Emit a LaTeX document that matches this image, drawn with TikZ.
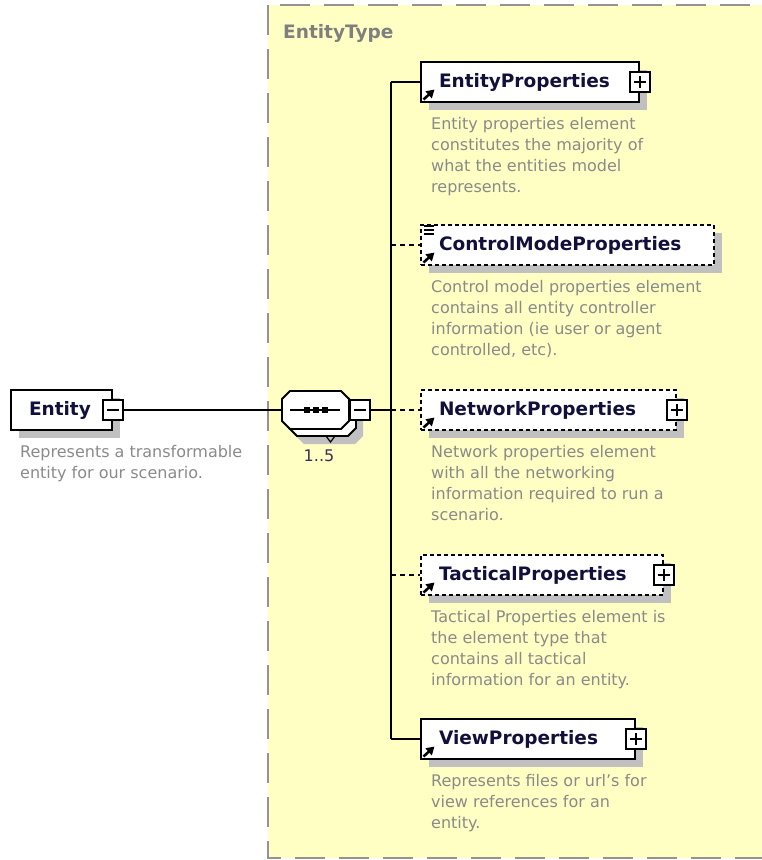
\documentclass[tikz,border=0pt]{standalone}
\usepackage{fontspec}
\setmainfont{DejaVu Sans}
\usetikzlibrary{positioning,shadows,arrows.meta}
\definecolor{schemayellow}{HTML}{FFFFC4}
\definecolor{bordergray}{HTML}{939393}
\definecolor{shadowgray}{HTML}{C0C0C0}
\definecolor{descgray}{HTML}{8A8A8A}
\definecolor{typegray}{HTML}{7F7F7F}
\definecolor{labelnavy}{HTML}{10103A}
\definecolor{countpurple}{HTML}{3C2C5C}
\newcommand{\lblfont}{\fontsize{18.5}{22}\selectfont\bfseries}
\newcommand{\dscfont}{\fontsize{16}{21}\selectfont}
% octagon of a sequence compositor round a named node
\newcommand{\seqshape}[2][]{%
  \draw[fill=white, line width=1.8pt, #1]
    ([xshift=8pt]#2.north west) -- ([xshift=-8pt]#2.north east)
    -- ([yshift=-8pt]#2.north east) -- ([yshift=8pt]#2.south east)
    -- ([xshift=-8pt]#2.south east) -- ([xshift=8pt]#2.south west)
    -- ([yshift=8pt]#2.south west) -- ([yshift=-8pt]#2.north west) -- cycle;}

\begin{document}
\begin{tikzpicture}[
  x=1pt, y=-1pt,
  node distance=14pt,
  elem/.style={draw=black, line width=2pt, fill=white, anchor=west,
               minimum height=40pt, inner xsep=0pt, text width=#1, align=left,
               font=\lblfont, text=labelnavy,
               drop shadow={shadow xshift=8pt, shadow yshift=-8pt,
                            fill=shadowgray, opacity=1}},
  optelem/.style={elem={#1}, dash pattern=on 4pt off 3pt},
  desc/.style={anchor=north west, inner sep=0pt, font=\dscfont,
               text=descgray, align=left},
  pm/.style={draw=black, line width=1.7pt, fill=white, minimum size=20pt,
             inner sep=0pt},
  plusbox/.style={pm, path picture={
      \draw[line width=1.7pt]
        ([xshift=4pt]path picture bounding box.west) -- ([xshift=-4pt]path picture bounding box.east)
        ([yshift=-4pt]path picture bounding box.north) -- ([yshift=4pt]path picture bounding box.south);}},
  minusbox/.style={pm, path picture={
      \draw[line width=1.7pt]
        ([xshift=4pt]path picture bounding box.west) -- ([xshift=-4pt]path picture bounding box.east);}},
  compositor/.style={rectangle, minimum width=67pt, minimum height=38pt,
                     inner sep=0pt, outer sep=0pt},
  link/.style={line width=1.8pt},
  optlink/.style={link, dash pattern=on 5pt off 4pt},
  refarrow/.style={-{Triangle[length=8pt,width=9pt]}, line width=2.6pt}
]
  \useasboundingbox (0,0) rectangle (762,860);
  \clip (0,0) rectangle (762,860);

  % complex type area
  \draw[fill=schemayellow, draw=bordergray, line width=2pt,
        dash pattern=on 30pt off 14pt] (268,5) rectangle (800,858);
  \node[anchor=west, font=\lblfont, text=typegray, inner sep=0pt] (etype) at (283,33) {EntityType};

  % root element
  \node[elem=101pt] (entity) at (10,410) {\hspace*{18pt}Entity};
  \node[minusbox] (entity-x) at (entity.east) {};
  \node[desc, below=14pt of entity.south west, anchor=north west, xshift=10pt] (entity-d)
       {Represents a transformable\\entity for our scenario.};

  % sequence 1..5
  \node[compositor] (seq-shadow) at (329.5,425) {};
  \node[compositor] (seq-back) at (322.5,417) {};
  \node[compositor] (seq) at (315.5,410) {};
  \seqshape[fill=shadowgray, draw=none]{seq-shadow}
  \seqshape{seq-back}
  \seqshape{seq}
  \draw[link] ([xshift=8pt]seq.west) -- ([xshift=-9pt]seq.east);
  \foreach \dx in {-9,0,9}
    \fill ([shift={(\dx pt-3pt,-3pt)}]seq.center) rectangle ++(6pt,6pt);
  \node[minusbox, anchor=west] (seq-x) at (seq.east) {};
  \draw[line width=1.2pt] (326,436) -- (335,436) -- (330.5,442) -- cycle;
  \node[below=21pt of seq, xshift=3.5pt, inner sep=0pt, font=\dscfont,
        text=countpurple] (seq-n) {1..5};

  % child elements
  \node[elem=218pt] (ep) at (420,82) {\hspace*{18pt}EntityProperties};
  \node[plusbox] (ep-x) at (ep.east) {};
  \node[desc, below=14pt of ep.south west, anchor=north west, xshift=11pt] (ep-d)
       {Entity properties element\\constitutes the majority of\\what the entities model\\represents.};

  \node[optelem=293pt] (cm) at (420,245) {\hspace*{18pt}ControlModeProperties};
  \node[desc, below=14pt of cm.south west, anchor=north west, xshift=11pt] (cm-d)
       {Control model properties element\\contains all entity controller\\information (ie user or agent\\controlled, etc).};
  \foreach \dy in {2,6,10}
    \draw[line width=1.4pt] ([shift={(4pt,-\dy pt)}]cm.north west) -- ++(10pt,0pt);

  \node[optelem=255pt] (np) at (420,410) {\hspace*{18pt}NetworkProperties};
  \node[plusbox] (np-x) at (np.east) {};
  \node[desc, below=14pt of np.south west, anchor=north west, xshift=11pt] (np-d)
       {Network properties element\\with all the networking\\information required to run a\\scenario.};

  \node[optelem=242pt] (tp) at (420,575) {\hspace*{18pt}TacticalProperties};
  \node[plusbox] (tp-x) at (tp.east) {};
  \node[desc, below=14pt of tp.south west, anchor=north west, xshift=11pt] (tp-d)
       {Tactical Properties element is\\the element type that\\contains all tactical\\information for an entity.};

  \node[elem=214pt] (vp) at (420,739) {\hspace*{18pt}ViewProperties};
  \node[plusbox] (vp-x) at (vp.east) {};
  \node[desc, below=14pt of vp.south west, anchor=north west, xshift=11pt] (vp-d)
       {Represents files or url's for\\view references for an\\entity.};

  \foreach \n in {ep,cm,np,tp,vp}
    \draw[refarrow] ([shift={(3.5pt,3.5pt)}]\n.south west) -- ++(11pt,10pt);

  % connectors
  \coordinate (trunk) at (391,410);
  \draw[link] (entity-x) -- (seq);
  \draw[link] (seq-x) -- (trunk);
  \draw[link] (trunk |- ep.west) -- (trunk |- vp.west);
  \draw[link] (trunk |- ep.west) -- (ep.west);
  \draw[optlink] (trunk |- cm.west) -- (cm.west);
  \draw[optlink] (trunk |- np.west) -- (np.west);
  \draw[optlink] (trunk |- tp.west) -- (tp.west);
  \draw[link] (trunk |- vp.west) -- (vp.west);
\end{tikzpicture}
\end{document}
